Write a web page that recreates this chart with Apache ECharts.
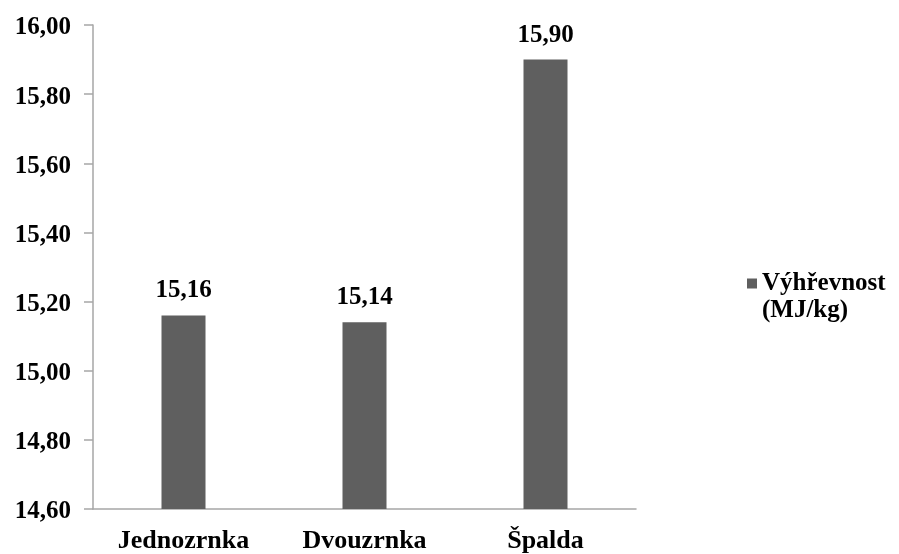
<!DOCTYPE html>
<html>
<head>
    <meta charset="utf-8">
    <title>Výhřevnost</title>
    <script src="https://cdn.jsdelivr.net/npm/echarts@6/dist/echarts.min.js"></script>
</head>
<style>
    *{
        margin: 0;
        padding: 0;
    }
    #chart{
        width: 899px;
        height: 554px;
    }
</style>
<body>
<div id="chart"></div>
<script>
    // data
    const categories = ['Jednozrnka', 'Dvouzrnka', 'Špalda'];
    const values = [15.16, 15.14, 15.90];
    const seriesName = 'Výhřevnost (MJ/kg)';

    const font = "'Liberation Serif', 'Times New Roman', serif";
    const comma = v => v.toFixed(2).replace('.', ',');

    let chart = echarts.init(document.getElementById('chart'));
    let option = {
        backgroundColor: '#fff',
        textStyle: { fontFamily: font },
        grid: { left: 93, right: 263, top: 25, bottom: 43 },
        legend: {
            left: 742,
            top: 238,
            itemWidth: 10,
            itemHeight: 10,
            itemGap: 6,
            icon: 'rect',
            data: [seriesName],
            // empty first line keeps the marker level with "Výhřevnost"
            formatter: () => '\nVýhřevnost\n(MJ/kg)',
            textStyle: {
                fontFamily: font,
                fontWeight: 'bold',
                fontSize: 25,
                color: '#000',
                lineHeight: 27
            }
        },
        xAxis: {
            type: 'category',
            data: categories,
            axisLine: { lineStyle: { color: '#a6a6a6', width: 1.5 } },
            axisTick: { show: false },
            axisLabel: {
                margin: 19,
                color: '#000',
                fontFamily: font,
                fontWeight: 'bold',
                fontSize: 26
            }
        },
        yAxis: {
            type: 'value',
            min: 14.6,
            max: 16.0,
            interval: 0.2,
            axisLine: { show: true, lineStyle: { color: '#a6a6a6', width: 1.5 } },
            axisTick: { show: true, length: 9, lineStyle: { color: '#a6a6a6', width: 1.5 } },
            splitLine: { show: false },
            axisLabel: {
                margin: 22,
                color: '#000',
                formatter: v => '{n|' + comma(v) + '}',
                rich: {
                    n: {
                        fontFamily: font,
                        fontWeight: 'bold',
                        fontSize: 25,
                        color: '#000',
                        padding: [6, 0, 0, 0]
                    }
                }
            }
        },
        series: [
            {
                name: seriesName,
                type: 'bar',
                data: values,
                barWidth: 44,
                itemStyle: { color: '#5f5f5f' },
                label: {
                    show: true,
                    position: 'top',
                    distance: 12,
                    color: '#000',
                    fontFamily: font,
                    fontWeight: 'bold',
                    fontSize: 25,
                    formatter: p => comma(p.value)
                }
            }
        ]
    };
    chart.setOption(option);
</script>
</body>
</html>
